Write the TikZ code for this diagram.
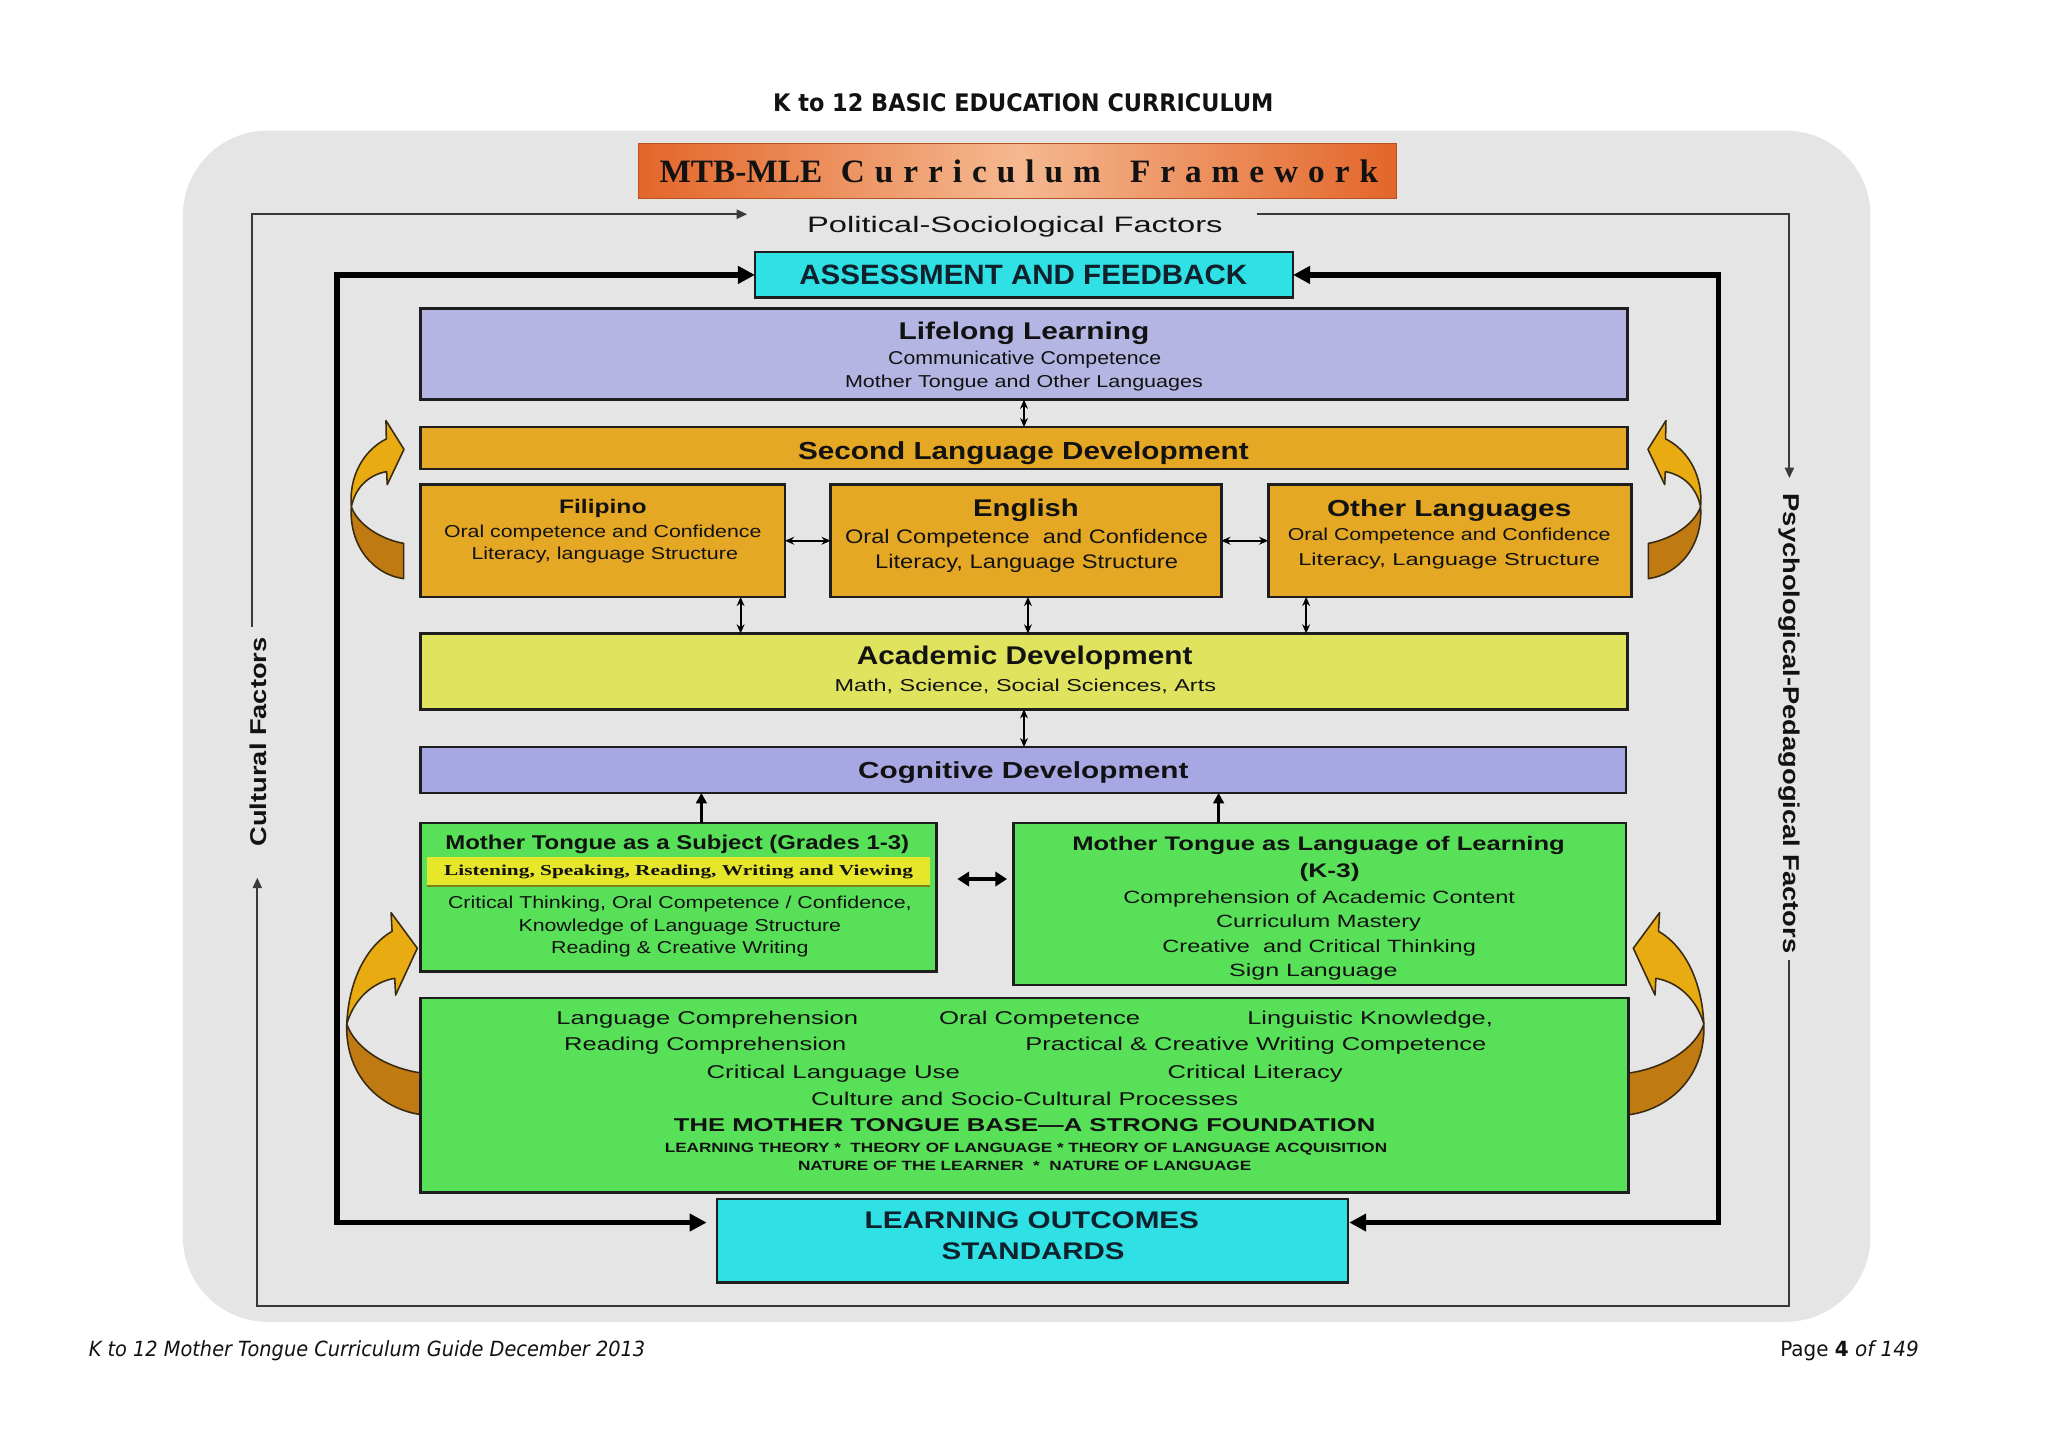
\documentclass[tikz,border=0pt]{standalone}
\usepackage{fontspec}
\usepackage{graphicx}
\usetikzlibrary{arrows.meta,fit}
\newfontfamily\arialf{Liberation Sans}
\newfontfamily\timesf{Liberation Serif}
\newfontfamily\verdf{DejaVu Sans}[ItalicFont={DejaVu Sans Oblique},BoldFont={DejaVu Sans Bold},BoldItalicFont={DejaVu Sans Bold Oblique}]
\newcommand\AB[1]{\arialf\bfseries\fontsize{#1}{#1}\selectfont}
\newcommand\AR[1]{\arialf\fontsize{#1}{#1}\selectfont}
\newcommand\TB[1]{\timesf\bfseries\fontsize{#1}{#1}\selectfont}
\newcommand\VB[1]{\verdf\bfseries\fontsize{#1}{#1}\selectfont}
\newcommand\VR[1]{\verdf\fontsize{#1}{#1}\selectfont}
\newcommand\VI[1]{\verdf\itshape\fontsize{#1}{#1}\selectfont}
\newcommand\fitw[2]{\resizebox{#1pt}{\height}{#2}}
\newcommand\tx[6][]{\node[txt,font={#4},#1] (#2) at (#3) {\raisebox{0pt}[0.716em][0pt]{\fitw{#5}{#6}}};}
\newcommand\lsp{\hspace{7.5pt}}
\definecolor{bggray}{HTML}{E5E5E5}
\definecolor{lav}{HTML}{B5B5E3}
\definecolor{lavb}{HTML}{A7A7E3}
\definecolor{goldb}{HTML}{E5A824}
\definecolor{yelb}{HTML}{E0E35E}
\definecolor{greenb}{HTML}{58E158}
\definecolor{cyanb}{HTML}{2FE0E4}
\definecolor{bandc}{HTML}{E6E62A}
\definecolor{oraD}{HTML}{E3662A}
\definecolor{oraL}{HTML}{F5B890}
\definecolor{goldA}{HTML}{E8AC12}
\definecolor{brownA}{HTML}{C07A12}
\definecolor{arrline}{HTML}{3A2A10}
\definecolor{txtc}{HTML}{121212}
\definecolor{navytxt}{HTML}{10202C}
\definecolor{thinc}{HTML}{3A3A3A}
\definecolor{boxline}{HTML}{1E1E1E}
\newcommand\CArrUp[1]{\begin{scope}[#1]
 \filldraw[arrfill, fill=brownA] (309,443) .. controls (286,440) and (267,418) .. (269,388) .. controls (274,402) and (292,413) .. (309,416) -- cycle;
 \filldraw[arrfill, fill=goldA] (269,388) .. controls (267,365) and (278,345) .. (295.8,336) -- (295.5,322) -- (309.3,344) -- (296.5,371) -- (296,361) .. controls (281,364) and (272,374) .. (269,388) -- cycle;
\end{scope}}
\newcommand\CArrLow[1]{\begin{scope}[#1]
 \filldraw[arrfill, fill=brownA] (324,853.6) .. controls (293,850) and (264,825) .. (265.5,784) .. controls (272,803) and (296,818) .. (324,821.7) -- cycle;
 \filldraw[arrfill, fill=goldA] (265.5,784) .. controls (267,750) and (281,724) .. (300.2,713) -- (299.4,698.7) -- (319.5,726) -- (302.9,761.8) -- (302.2,749) .. controls (285,752) and (271,765) .. (265.5,784) -- cycle;
\end{scope}}
\tikzset{
 txt/.style={inner sep=0pt, outer sep=0pt, text=txtc},
 box/.style={draw=boxline, line width=2pt, inner sep=0pt, outer sep=0pt},
 thinln/.style={draw=thinc, line width=1.4pt},
 thinarr/.style={thinln, -{Triangle[length=8pt,width=7pt]}},
 loopln/.style={draw=black, line width=4pt, {Triangle[length=13pt,width=13pt]}-{Triangle[length=13pt,width=13pt]}},
 dbl/.style={draw=black, line width=1.6pt, {Stealth[length=7pt,width=6pt]}-{Stealth[length=7pt,width=6pt]}},
 uparr/.style={draw=black, line width=2pt, -{Triangle[length=8pt,width=8pt]}},
 bigdbl/.style={draw=black, line width=3pt, {Triangle[length=9pt,width=11pt]}-{Triangle[length=9pt,width=11pt]}},
 arrfill/.style={draw=arrline, line width=1.2pt, line join=round},
}
\begin{document}
\begin{tikzpicture}[x=1pt,y=-1pt]
\useasboundingbox (0,0) rectangle (1568,1108.6);
\fill[white] (0,0) rectangle (1568,1108.6);
% page title
\tx{title}{783.5,78.5}{\VB{18.5}}{383}{K to 12 BASIC EDUCATION CURRICULUM}
% background panel
\fill[bggray, rounded corners=65pt] (140,100) rectangle (1432,1012);
% banner
\node[draw=oraD!80!black, line width=1pt, left color=oraD, right color=oraD, middle color=oraL, inner sep=0pt, fit={(489,110) (1069,152)}] (banner) {};
\tx{bantxt}{780,130.8}{\TB{25}}{550}{MTB-MLE\hspace{14pt}C\lsp u\lsp r\lsp r\lsp i\lsp c\lsp u\lsp l\lsp u\lsp m\hspace{22pt}F\lsp r\lsp a\lsp m\lsp e\lsp w\lsp o\lsp r\lsp k}
% factor labels
\tx{polit}{777,172}{\AR{17.1}}{318}{Political-Sociological Factors}
\tx[rotate=90]{cult}{198,568}{\AB{17.5}}{160}{Cultural Factors}
\tx[rotate=-90]{psych}{1372,554}{\AB{17.5}}{352}{Psychological-Pedagogical Factors}
% factor lines
\coordinate (CA) at (193,480);
\coordinate (CTL) at (193,164);
\coordinate (PA) at (572,164);
\coordinate (PR) at (962,164);
\coordinate (TR) at (1370,164);
\coordinate (PSA) at (1370,366);
\coordinate (PSB) at (1370,735);
\coordinate (BR) at (1370,1000);
\coordinate (BL) at (197,1000);
\coordinate (CB) at (197,672);
\draw[thinarr] (CA) -- (CTL) -- (PA);
\draw[thinarr] (PR) -- (TR) -- (PSA);
\draw[thinarr] (PSB) -- (BR) -- (BL) -- (CB);
% curved arrows
\CArrUp{}
\CArrUp{shift={(1571,0)}, xscale=-1}
\CArrLow{}
\CArrLow{shift={(1570,0)}, xscale=-1}
% boxes
\node[box, fill=cyanb, fit={(578,193) (990,228)}] (AF) {};
\node[box, fill=lav, fit={(322,236) (1246,306)}] (LL) {};
\node[box, fill=goldb, fit={(322,327) (1246,359)}] (SLD) {};
\node[box, fill=goldb, fit={(322,371) (601,457)}] (FIL) {};
\node[box, fill=goldb, fit={(636,371) (935,457)}] (ENG) {};
\node[box, fill=goldb, fit={(971,371) (1249,457)}] (OTH) {};
\node[box, fill=yelb, fit={(322,485) (1246,543)}] (AD) {};
\node[box, fill=lavb, fit={(322,572) (1245,607)}] (COG) {};
\node[box, fill=greenb, fit={(322,630) (717,744)}] (MTS) {};
\node[fill=bandc, inner sep=0pt, fit={(327,656) (712,678)}] (BAND) {};
\draw[line width=1.5pt, draw=bandc!55!black] (BAND.south west) -- (BAND.south east);
\node[box, fill=greenb, fit={(776,630) (1245,754)}] (MTLL) {};
\node[box, fill=greenb, fit={(322,764) (1247,913)}] (FND) {};
\node[box, fill=cyanb, fit={(549,918) (1032,982)}] (LO) {};
% feedback loop
\coordinate (LT) at (258,210.5);
\coordinate (LB) at (258,936);
\coordinate (RT) at (1316,210.5);
\coordinate (RB) at (1316,936);
\draw[loopln, shorten >=8pt] (AF.west) -- (LT) -- (LB) -- (LB -| LO.west);
\draw[loopln, shorten >=1pt] (AF.east) -- (RT) -- (RB) -- (RB -| LO.east);
% texts in boxes
\tx[text=navytxt]{aft}{783.5,209.8}{\AB{21.4}}{343}{ASSESSMENT AND FEEDBACK}
\tx{ll1}{784,253.6}{\AB{18.5}}{192}{Lifelong Learning}
\tx{ll2}{784.5,274.3}{\AR{14.2}}{209}{Communicative Competence}
\tx{ll3}{784,291.8}{\AR{13.2}}{274}{Mother Tongue and Other Languages}
\tx{sld}{783.5,344.9}{\AB{18.9}}{345}{Second Language Development}
\tx{fil1}{461.5,387.6}{\AB{15}}{67}{Filipino}
\tx{fil2}{461.5,406.7}{\AR{13.2}}{243}{Oral competence and Confidence}
\tx{fil3}{463,423.9}{\AR{13.2}}{204}{Literacy, language Structure}
\tx{eng1}{785.5,388.9}{\AB{18.5}}{81}{English}
\tx{eng2}{786,410.6}{\AR{15}}{278}{Oral Competence \ and Confidence}
\tx{eng3}{786,429.6}{\AR{15}}{232}{Literacy, Language Structure}
\tx{oth1}{1109.5,388.7}{\AB{17.8}}{187}{Other Languages}
\tx{oth2}{1109.5,409.2}{\AR{13.2}}{247}{Oral Competence and Confidence}
\tx{oth3}{1109.5,428}{\AR{13.2}}{231}{Literacy, Language Structure}
\tx{ad1}{784.5,502.1}{\AB{19.6}}{257}{Academic Development}
\tx{ad2}{785,524.8}{\AR{13.2}}{292}{Math, Science, Social Sciences, Arts}
\tx{cog}{783.5,589.5}{\AB{17.8}}{253}{Cognitive Development}
\tx{mts1}{518.5,644.8}{\AB{15.3}}{355}{Mother Tongue as a Subject (Grades 1-3)}
\tx{mts2}{519.5,666.1}{\TB{11.6}}{359}{Listening, Speaking, Reading, Writing and Viewing}
\tx{mts3}{520.5,690.7}{\AR{13.2}}{355}{Critical Thinking, Oral Competence / Confidence,}
\tx{mts4}{520.5,708.6}{\AR{13.2}}{247}{Knowledge of Language Structure}
\tx{mts5}{520.5,725.4}{\AR{13.2}}{197}{Reading \& Creative Writing}
\tx{mtl1}{1009.5,645.9}{\AB{15}}{377}{Mother Tongue as Language of Learning}
\tx{mtl2}{1018,666.8}{\AB{15}}{46}{(K-3)}
\tx{mtl3}{1010,686.7}{\AR{13.6}}{300}{Comprehension of Academic Content}
\tx{mtl4}{1009.5,705.2}{\AR{13.6}}{157}{Curriculum Mastery}
\tx{mtl5}{1010,724.5}{\AR{13.6}}{240}{Creative \ and Critical Thinking}
\tx{mtl6}{1005.5,742.6}{\AR{13.6}}{129}{Sign Language}
\tx{f1a}{541.5,779.6}{\AR{14.2}}{231}{Language Comprehension}
\tx{f1b}{796,779.6}{\AR{14.2}}{154}{Oral Competence}
\tx{f1c}{1049,779.6}{\AR{14.2}}{188}{Linguistic Knowledge,}
\tx{f2a}{540,799.4}{\AR{14.2}}{216}{Reading Comprehension}
\tx{f2b}{961.5,799.4}{\AR{14.2}}{353}{Practical \& Creative Writing Competence}
\tx{f3a}{638,820.5}{\AR{14.2}}{194}{Critical Language Use}
\tx{f3b}{961,820.5}{\AR{14.2}}{134}{Critical Literacy}
\tx{f4}{784.5,841.6}{\AR{14.2}}{327}{Culture and Socio-Cultural Processes}
\tx{f5}{784.5,861.3}{\AB{14.2}}{537}{THE MOTHER TONGUE BASE—A STRONG FOUNDATION}
\tx{f6}{785.5,878.9}{\AB{10.3}}{553}{LEARNING THEORY *\ \ THEORY OF LANGUAGE * THEORY OF LANGUAGE ACQUISITION}
\tx{f7}{784.5,892.6}{\AB{10.3}}{347}{NATURE OF THE LEARNER\ \ *\ \ NATURE OF LANGUAGE}
\tx[text=navytxt]{lo1}{790,934}{\AB{18.4}}{256}{LEARNING OUTCOMES}
\tx[text=navytxt]{lo2}{791,957.4}{\AB{18.4}}{140}{STANDARDS}
% small connectors
\draw[dbl] (LL.south) -- (SLD.north);
\draw[dbl] (FIL.east) -- (ENG.west);
\draw[dbl] (ENG.east) -- (OTH.west);
\coordinate (fa) at ([shift={(105.5,0)}]FIL.south);
\coordinate (ea) at ([shift={(1.5,0)}]ENG.south);
\coordinate (oa) at ([shift={(-110,0)}]OTH.south);
\draw[dbl] (fa) -- (fa |- AD.north);
\draw[dbl] (ea) -- (ea |- AD.north);
\draw[dbl] (oa) -- (oa |- AD.north);
\draw[dbl] (AD.south) -- (AD.south |- COG.north);
\coordinate (ma) at ([shift={(17.5,0)}]MTS.north);
\coordinate (mb) at ([shift={(-77.5,0)}]MTLL.north);
\draw[uparr] (ma) -- (ma |- COG.south);
\draw[uparr] (mb) -- (mb |- COG.south);
\coordinate (h1) at ([shift={(16,-14)}]MTS.east);
\coordinate (h2) at (h1 -| MTLL.west);
\draw[bigdbl] (h1) -- ([shift={(-5,0)}]h2);
% footer
\tx{footl}{281,1033}{\VI{16}}{426}{K to 12 Mother Tongue Curriculum Guide December 2013}
\tx{footr}{1416,1033}{\VR{16}}{106}{Page {\bfseries 4} {\itshape of 149}}
\end{tikzpicture}
\end{document}
